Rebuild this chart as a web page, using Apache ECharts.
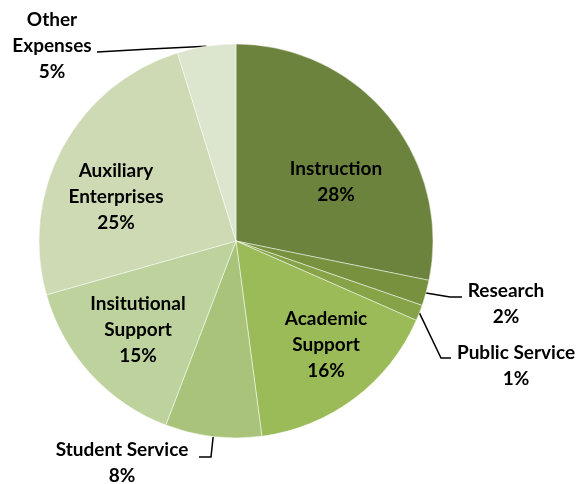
<!DOCTYPE html>
<html>
<head>
<meta charset="utf-8">
<script src="https://cdn.jsdelivr.net/npm/echarts@6/dist/echarts.min.js"></script>
<style>
  html, body { margin: 0; padding: 0; background: #fff; }
  #chart { width: 580px; height: 484px; }
</style>
</head>
<body>
<div id="chart"></div>
<script>
// data (shares; labels round them)
const categories = ['Instruction', 'Research', 'Public Service', 'Academic\nSupport',
  'Student Service', 'Insitutional\nSupport', 'Auxiliary\nEnterprises', 'Other\nExpenses'];
const shares = [28.2, 2.1, 1.3, 16.3, 7.9, 14.8, 24.6, 4.8];
const colors = ['#6b833c', '#77913f', '#86a348', '#9bbb59', '#a9c47a', '#bdd29c', '#cddab4', '#dce5cd'];

// where each label sits (block centre) and, for outside ones, the leader line bend
const labelSpots = [
  { x: 336, y: 182 },
  { x: 506, y: 304, line: [[450, 297], [462, 297]] },
  { x: 516, y: 366, line: [[441, 358], [451, 358]] },
  { x: 326, y: 345 },
  { x: 122, y: 463, line: [[211, 457], [199, 457]] },
  { x: 138, y: 330 },
  { x: 116, y: 197 },
  { x: 52, y: 46, line: [[150, 49], [97, 52]] }
];

const chart = echarts.init(document.getElementById('chart'));
chart.setOption({
  animation: false,
  series: [
    {
      type: 'pie',
      center: [236, 241],
      radius: 197,
      startAngle: 90,
      clockwise: true,
      avoidLabelOverlap: false,
      percentPrecision: 0,
      data: categories.map((name, i) => ({
        name: name,
        value: shares[i],
        itemStyle: { color: colors[i] }
      })),
      itemStyle: {
        borderColor: 'rgba(255,255,255,0.6)',
        borderWidth: 0.8
      },
      label: {
        show: true,
        formatter: '{b}\n{d}%',
        color: '#000',
        fontFamily: 'Lato',
        fontWeight: 'bold',
        fontSize: 19,
        lineHeight: 26,
        align: 'center',
        overflow: 'none'
      },
      labelLine: {
        show: true,
        lineStyle: { color: '#000', width: 1.5 }
      },
      labelLayout: function (params) {
        const spot = labelSpots[params.dataIndex];
        const out = { x: spot.x, y: spot.y, align: 'center', verticalAlign: 'middle', hideOverlap: false };
        if (spot.line && params.labelLinePoints) {
          out.labelLinePoints = [params.labelLinePoints[0], spot.line[0], spot.line[1]];
        } else if (!spot.line) {
          out.labelLinePoints = [[0, 0], [0, 0], [0, 0]];
        }
        return out;
      }
    }
  ]
});
</script>
</body>
</html>
